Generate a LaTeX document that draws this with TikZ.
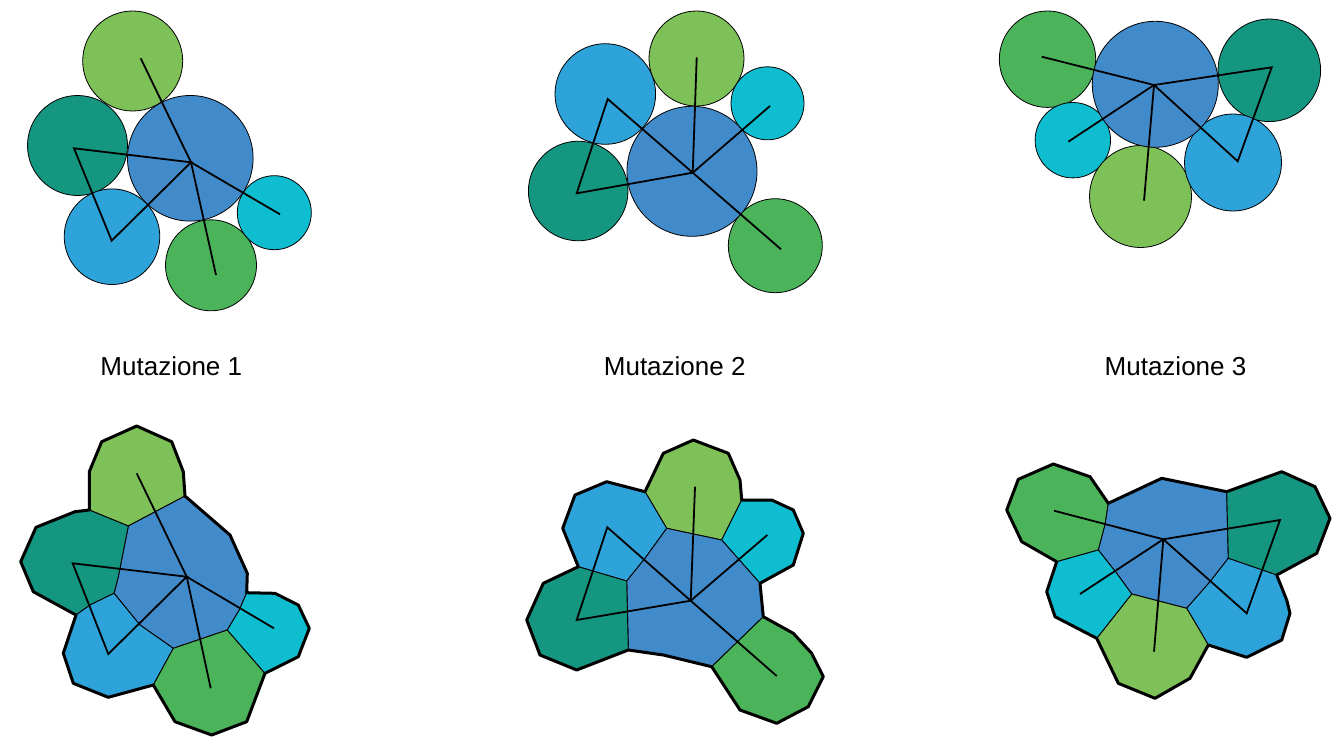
\documentclass[tikz,border=0pt]{standalone}
\usepackage{fontspec}
\setmainfont{Liberation Sans}
\definecolor{lgreen}{RGB}{126,193,88}
\definecolor{dteal}{RGB}{20,150,128}
\definecolor{mblue}{RGB}{66,139,202}
\definecolor{lblue}{RGB}{46,163,218}
\definecolor{mgreen}{RGB}{75,180,90}
\definecolor{cyanc}{RGB}{14,190,208}
\tikzset{
  ball/.style={draw=black,line width=0.8pt},
  cell/.style={draw=black,line width=0.9pt,line join=round},
  rim/.style={draw=black,line width=3pt,line join=round},
  bone/.style={draw=black,line width=1.8pt,line join=miter},
  lbl/.style={anchor=base,font=\fontsize{26}{30}\selectfont,inner sep=0pt}
}
\begin{document}
\begin{tikzpicture}[x=1pt,y=-1pt]
\path[use as bounding box] (0,0) rectangle (1337,747);

% ---------- top panel 1 ----------
\filldraw[ball,fill=lgreen] (132.7,61) circle (50pt);
\filldraw[ball,fill=dteal] (77.5,145.5) circle (50pt);
\filldraw[ball,fill=lblue] (112,236.7) circle (47.8pt);
\filldraw[ball,fill=mgreen] (211,265.3) circle (45.5pt);
\filldraw[ball,fill=cyanc] (274.3,212.7) circle (37pt);
\filldraw[ball,fill=mblue] (190.3,158.3) circle (62.8pt);
\coordinate (h1) at (191,162.3);
\coordinate (a1) at (140.7,58.3);
\coordinate (b1) at (74,148.3);
\coordinate (c1) at (111.7,240.7);
\coordinate (d1) at (280,214.3);
\coordinate (e1) at (216,275);
\draw[bone] (h1) -- (a1);
\draw[bone] (h1) -- (b1) -- (c1) -- cycle;
\draw[bone] (h1) -- (d1);
\draw[bone] (h1) -- (e1);

% ---------- top panel 2 ----------
\filldraw[ball,fill=lblue] (605.3,94) circle (50.3pt);
\filldraw[ball,fill=lgreen] (696.5,58.5) circle (47.5pt);
\filldraw[ball,fill=cyanc] (767.5,103.3) circle (36.5pt);
\filldraw[ball,fill=dteal] (578.2,191) circle (49.8pt);
\filldraw[ball,fill=mgreen] (775.3,245.7) circle (47pt);
\filldraw[ball,fill=mblue] (692,171.3) circle (65pt);
\coordinate (h2) at (692.7,172.7);
\coordinate (a2) at (696.7,57.3);
\coordinate (b2) at (770,106);
\coordinate (c2) at (781,249.3);
\coordinate (d2) at (607.7,99);
\coordinate (e2) at (576.7,193.3);
\draw[bone] (h2) -- (a2);
\draw[bone] (h2) -- (b2);
\draw[bone] (h2) -- (c2);
\draw[bone] (h2) -- (d2) -- (e2) -- cycle;

% ---------- top panel 3 ----------
\filldraw[ball,fill=mgreen] (1047.5,59.2) circle (48.2pt);
\filldraw[ball,fill=dteal] (1269.3,70.3) circle (51.3pt);
\filldraw[ball,fill=cyanc] (1072.8,140.2) circle (37.7pt);
\filldraw[ball,fill=lgreen] (1140.5,196.5) circle (51pt);
\filldraw[ball,fill=lblue] (1233,162.5) circle (48.5pt);
\filldraw[ball,fill=mblue] (1155.3,84.3) circle (63pt);
\coordinate (h3) at (1154,85);
\coordinate (a3) at (1041.7,56.7);
\coordinate (b3) at (1271.7,67.3);
\coordinate (c3) at (1237.7,161.3);
\coordinate (d3) at (1068.3,141.7);
\coordinate (e3) at (1144,200.7);
\draw[bone] (h3) -- (a3);
\draw[bone] (h3) -- (b3) -- (c3) -- cycle;
\draw[bone] (h3) -- (d3);
\draw[bone] (h3) -- (e3);

% ---------- labels ----------
\node[lbl] (m1) at (171.3,375.7) {Mutazione 1};
\node[lbl] (m2) at (674.7,375.7) {Mutazione 2};
\node[lbl] (m3) at (1175.5,375.7) {Mutazione 3};

% ---------- bottom panel 1 ----------
\filldraw[cell,fill=lgreen] (89.3,510) -- (89.3,471.7) -- (101.7,441.7) -- (136.7,426) -- (171.7,441.7) -- (183.3,471.7) -- (185,496) -- (128.3,526) -- cycle;
\filldraw[cell,fill=mblue] (128.3,526) -- (185,496) -- (230,535) -- (247.3,573.3) -- (246.7,592.7) -- (239.3,610) -- (227.3,630) -- (173.3,648.3) -- (140,625) -- (114,593.3) -- (118.3,576.7) -- cycle;
\filldraw[cell,fill=dteal] (89.3,510) -- (128.3,526) -- (118.3,576.7) -- (114,593.3) -- (90,605) -- (76,615) -- (33.3,591.7) -- (20.7,561.7) -- (36,527.3) -- (75,511.7) -- cycle;
\filldraw[cell,fill=lblue] (76,615) -- (90,605) -- (114,593.3) -- (140,625) -- (173.3,648.3) -- (153.3,685) -- (108.3,697.3) -- (73.3,683.3) -- (63.3,653.3) -- cycle;
\filldraw[cell,fill=mgreen] (173.3,648.3) -- (227.3,630) -- (265,673.3) -- (246.7,721.7) -- (211.7,735) -- (175,721.7) -- (153.3,685) -- cycle;
\filldraw[cell,fill=cyanc] (246.7,592.7) -- (275,593.3) -- (298.3,605) -- (309.3,628.3) -- (298.3,656.7) -- (265,673.3) -- (227.3,630) -- (239.3,610) -- cycle;
\draw[rim] (136.7,426) -- (171.7,441.7) -- (183.3,471.7) -- (185,496) -- (230,535) -- (247.3,573.3) -- (246.7,592.7) -- (275,593.3) -- (298.3,605) -- (309.3,628.3) -- (298.3,656.7) -- (265,673.3) -- (246.7,721.7) -- (211.7,735) -- (175,721.7) -- (153.3,685) -- (108.3,697.3) -- (73.3,683.3) -- (63.3,653.3) -- (76,615) -- (33.3,591.7) -- (20.7,561.7) -- (36,527.3) -- (75,511.7) -- (89.3,510) -- (89.3,471.7) -- (101.7,441.7) -- cycle;
\coordinate (H1) at (186.7,576.7);
\coordinate (A1) at (136.7,473.3);
\coordinate (B1) at (72.7,563.3);
\coordinate (C1) at (108.3,654);
\coordinate (D1) at (274,628.3);
\coordinate (E1) at (210.7,688.3);
\draw[bone] (H1) -- (A1);
\draw[bone] (H1) -- (B1) -- (C1) -- cycle;
\draw[bone] (H1) -- (D1);
\draw[bone] (H1) -- (E1);

% ---------- bottom panel 2 ----------
\filldraw[cell,fill=lgreen] (645,491.7) -- (663.3,453.3) -- (693.3,440) -- (728.3,453.3) -- (740,480) -- (741.7,500) -- (721.7,540) -- (666.7,528.3) -- cycle;
\filldraw[cell,fill=lblue] (645,491.7) -- (666.7,528.3) -- (645,558.3) -- (626.7,581) -- (578.3,566.7) -- (562.7,528.3) -- (575,495) -- (606.7,481.7) -- cycle;
\filldraw[cell,fill=cyanc] (741.7,500) -- (771.7,500) -- (793.3,510) -- (803.3,533.3) -- (793.3,565) -- (760,583.3) -- (721.7,540) -- cycle;
\filldraw[cell,fill=mblue] (666.7,528.3) -- (721.7,540) -- (760,583.3) -- (763.3,616.7) -- (711.7,666.7) -- (663.3,655) -- (628.3,650) -- (626.7,581) -- (645,558.3) -- cycle;
\filldraw[cell,fill=dteal] (578.3,566.7) -- (626.7,581) -- (628.3,650) -- (576.7,670) -- (540,655) -- (526.7,620) -- (543.3,583.3) -- cycle;
\filldraw[cell,fill=mgreen] (763.3,616.7) -- (793.3,633.3) -- (811.7,653.3) -- (823.3,676.7) -- (808.3,706.7) -- (776.7,723.3) -- (740,710) -- (711.7,666.7) -- cycle;
\draw[rim] (693.3,440) -- (728.3,453.3) -- (740,480) -- (741.7,500) -- (771.7,500) -- (793.3,510) -- (803.3,533.3) -- (793.3,565) -- (760,583.3) -- (763.3,616.7) -- (793.3,633.3) -- (811.7,653.3) -- (823.3,676.7) -- (808.3,706.7) -- (776.7,723.3) -- (740,710) -- (711.7,666.7) -- (663.3,655) -- (628.3,650) -- (576.7,670) -- (540,655) -- (526.7,620) -- (543.3,583.3) -- (578.3,566.7) -- (562.7,528.3) -- (575,495) -- (606.7,481.7) -- (645,491.7) -- (663.3,453.3) -- cycle;
\coordinate (H2) at (690.7,600.7);
\coordinate (A2) at (695,486.7);
\coordinate (B2) at (767.3,535);
\coordinate (C2) at (776.7,676);
\coordinate (D2) at (607.3,527.3);
\coordinate (E2) at (576.7,620);
\draw[bone] (H2) -- (A2);
\draw[bone] (H2) -- (B2);
\draw[bone] (H2) -- (C2);
\draw[bone] (H2) -- (D2) -- (E2) -- cycle;

% ---------- bottom panel 3 ----------
\filldraw[cell,fill=mgreen] (1108.3,503.3) -- (1090,476.7) -- (1053.3,464) -- (1018.3,479.3) -- (1006.7,510) -- (1021.7,541.7) -- (1056.7,561.7) -- (1098.3,550) -- (1105,525) -- cycle;
\filldraw[cell,fill=mblue] (1108.3,503.3) -- (1161.7,478.3) -- (1226.7,491.7) -- (1228.3,558.3) -- (1210,581.7) -- (1186.7,608.3) -- (1131.7,594) -- (1116.7,573.3) -- (1098.3,550) -- (1105,525) -- cycle;
\filldraw[cell,fill=dteal] (1226.7,491.7) -- (1281.7,471.7) -- (1315,486.7) -- (1330,518.3) -- (1316.7,553.3) -- (1276.7,575) -- (1228.3,558.3) -- cycle;
\filldraw[cell,fill=lblue] (1228.3,558.3) -- (1276.7,575) -- (1286.7,600) -- (1290,613.3) -- (1281.7,640) -- (1246.7,657.3) -- (1208.3,645) -- (1186.7,608.3) -- (1210,581.7) -- cycle;
\filldraw[cell,fill=lgreen] (1186.7,608.3) -- (1208.3,645) -- (1190,678.3) -- (1155,698.3) -- (1118.3,683.3) -- (1096.7,638.3) -- (1131.7,594) -- cycle;
\filldraw[cell,fill=cyanc] (1056.7,561.7) -- (1098.3,550) -- (1116.7,573.3) -- (1131.7,594) -- (1096.7,638.3) -- (1055,616.7) -- (1046.7,591.7) -- cycle;
\draw[rim] (1053.3,464) -- (1090,476.7) -- (1108.3,503.3) -- (1161.7,478.3) -- (1226.7,491.7) -- (1281.7,471.7) -- (1315,486.7) -- (1330,518.3) -- (1316.7,553.3) -- (1276.7,575) -- (1286.7,600) -- (1290,613.3) -- (1281.7,640) -- (1246.7,657.3) -- (1208.3,645) -- (1190,678.3) -- (1155,698.3) -- (1118.3,683.3) -- (1096.7,638.3) -- (1055,616.7) -- (1046.7,591.7) -- (1056.7,561.7) -- (1021.7,541.7) -- (1006.7,510) -- (1018.3,479.3) -- cycle;
\coordinate (H3) at (1163.3,539.3);
\coordinate (A3) at (1054,510.7);
\coordinate (B3) at (1280,520);
\coordinate (C3) at (1246.7,613.3);
\coordinate (D3) at (1080,594);
\coordinate (E3) at (1154,651.7);
\draw[bone] (H3) -- (A3);
\draw[bone] (H3) -- (B3) -- (C3) -- cycle;
\draw[bone] (H3) -- (D3);
\draw[bone] (H3) -- (E3);
\end{tikzpicture}
\end{document}
